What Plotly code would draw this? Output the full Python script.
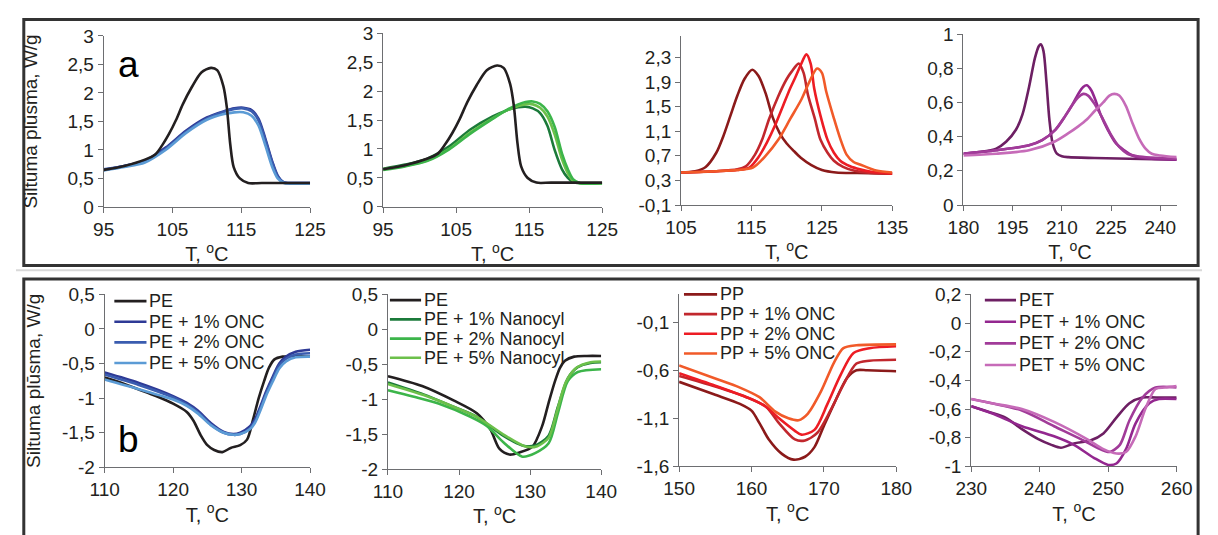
import plotly.graph_objects as go

W, H = 1218, 535

# ---------------- DATA ----------------
# (a) crystallization, panel 1: PE + ONC
a1_T_pe = [95, 98, 101, 102.5, 103.5, 104.5, 105.5, 106.5, 107.8, 109.2, 110.6, 111.5, 112.4, 112.9, 113.4, 113.9, 114.8, 116, 118, 125]
a1_Q_pe = [0.65, 0.72, 0.83, 0.92, 1.08, 1.28, 1.52, 1.8, 2.1, 2.36, 2.44, 2.4, 2.12, 1.75, 1.1, 0.7, 0.5, 0.42, 0.42, 0.42]
a1_T_onc = [95, 98, 101, 104, 107, 110, 112.5, 114, 115.3, 116.5, 117.5, 118.5, 119.5, 120.3, 121.2, 122, 125]
a1_Q_onc1 = [0.65, 0.72, 0.81, 1.04, 1.34, 1.57, 1.68, 1.73, 1.74, 1.70, 1.55, 1.2, 0.8, 0.55, 0.43, 0.42, 0.42]
a1_Q_onc2 = [0.66, 0.72, 0.80, 1.02, 1.32, 1.55, 1.67, 1.72, 1.73, 1.68, 1.52, 1.17, 0.78, 0.53, 0.43, 0.42, 0.42]
a1_Q_onc5 = [0.64, 0.70, 0.78, 1.0, 1.3, 1.53, 1.63, 1.66, 1.66, 1.6, 1.43, 1.08, 0.7, 0.5, 0.42, 0.41, 0.41]

# panel 2: PE + Nanocyl
a2_T_nc = [95, 98, 101, 104, 107, 110, 112, 113.5, 114.5, 115.5, 116.5, 117.5, 118.5, 119.5, 120.3, 121, 122, 125]
a2_Q_nc1 = [0.66, 0.73, 0.83, 1.04, 1.34, 1.56, 1.67, 1.72, 1.73, 1.70, 1.62, 1.40, 0.98, 0.65, 0.50, 0.43, 0.41, 0.41]
a2_Q_nc2 = [0.64, 0.70, 0.79, 0.99, 1.27, 1.52, 1.68, 1.77, 1.81, 1.82, 1.78, 1.65, 1.38, 0.92, 0.65, 0.48, 0.41, 0.41]
a2_Q_nc5 = [0.65, 0.71, 0.80, 1.00, 1.29, 1.53, 1.67, 1.74, 1.77, 1.77, 1.71, 1.56, 1.25, 0.82, 0.58, 0.45, 0.41, 0.41]

# panel 3: PP + ONC
a3_T_pp = [105, 107, 108.5, 110, 111, 112, 113, 114, 115.1, 116, 117, 118, 119, 120, 121, 122, 123.5, 125, 127, 130, 135]
a3_Q_pp = [0.43, 0.45, 0.52, 0.75, 1.02, 1.35, 1.68, 1.95, 2.1, 2.0, 1.72, 1.33, 1.07, 0.9, 0.78, 0.67, 0.55, 0.47, 0.43, 0.42, 0.41]
a3_T_onc1 = [105, 110, 113, 114.2, 115.5, 116.5, 117.5, 118.8, 120, 120.7, 121.7, 122.4, 123, 124, 124.8, 125.8, 126.7, 128, 129.5, 132, 135]
a3_Q_onc1 = [0.43, 0.45, 0.48, 0.53, 0.72, 0.96, 1.3, 1.67, 1.95, 2.07, 2.2, 2.05, 1.7, 1.3, 0.96, 0.75, 0.62, 0.52, 0.46, 0.42, 0.41]
a3_T_onc2 = [105, 110, 113, 114.7, 116, 117.2, 118.4, 119.5, 120.5, 121.2, 122, 122.8, 123.4, 123.9, 124.8, 125.8, 126.7, 127.6, 129, 130.4, 132, 135]
a3_Q_onc2 = [0.43, 0.45, 0.47, 0.51, 0.68, 0.92, 1.21, 1.52, 1.8, 1.97, 2.18, 2.35, 2.2, 1.8, 1.35, 0.96, 0.75, 0.62, 0.53, 0.48, 0.44, 0.41]
a3_T_onc5 = [105, 110, 113, 115.2, 117, 118.8, 120.5, 122.1, 123.2, 124.3, 125, 125.6, 126.7, 127.6, 128.5, 129.5, 130.4, 132.7, 135]
a3_Q_onc5 = [0.43, 0.45, 0.47, 0.51, 0.7, 0.96, 1.3, 1.62, 1.9, 2.12, 2.05, 1.75, 1.31, 0.98, 0.72, 0.6, 0.56, 0.46, 0.43]

# panel 4: PET + ONC
a4_T_pet = [180, 185, 190, 193, 196, 198, 200, 201.8, 203, 203.6, 204.4, 205.3, 206.2, 207.2, 208.5, 210, 212, 220, 245]
a4_Q_pet = [0.30, 0.31, 0.33, 0.37, 0.44, 0.53, 0.69, 0.86, 0.93, 0.94, 0.90, 0.72, 0.5, 0.36, 0.30, 0.285, 0.28, 0.275, 0.265]
a4_T_onc1 = [180, 190, 200, 204, 208, 211, 213, 215, 216.5, 217.6, 219, 220.5, 222, 224, 226.5, 229, 231.5, 235, 245]
a4_Q_onc1 = [0.30, 0.32, 0.35, 0.38, 0.44, 0.52, 0.58, 0.65, 0.69, 0.70, 0.67, 0.6, 0.52, 0.44, 0.36, 0.32, 0.29, 0.275, 0.265]
a4_T_onc2 = [180, 190, 200, 204, 208, 211, 213, 215, 216.6, 218, 220, 222.6, 225, 227.5, 230, 233, 245]
a4_Q_onc2 = [0.30, 0.32, 0.35, 0.38, 0.44, 0.52, 0.58, 0.63, 0.65, 0.64, 0.59, 0.5, 0.41, 0.34, 0.3, 0.285, 0.27]
a4_T_onc5 = [180, 190, 200, 207.7, 212, 215, 217.6, 220, 222.6, 224.5, 226, 227.5, 229.5, 231.5, 233.5, 235.5, 237.4, 240, 245]
a4_Q_onc5 = [0.29, 0.30, 0.32, 0.37, 0.42, 0.46, 0.5, 0.55, 0.6, 0.64, 0.65, 0.64, 0.58, 0.48, 0.39, 0.33, 0.30, 0.29, 0.28]

# (b) melting, panel 5: PE + ONC
b1_T_pe = [110, 112.5, 115, 117.5, 120, 122, 123, 124, 125, 126, 127.2, 128.4, 129.8, 130.8, 131.7, 132.5, 133.3, 134, 134.8, 136, 138, 140]
b1_Q_pe = [-0.70, -0.78, -0.875, -0.97, -1.08, -1.2, -1.33, -1.53, -1.68, -1.75, -1.78, -1.72, -1.68, -1.6, -1.3, -1.0, -0.75, -0.56, -0.44, -0.40, -0.39, -0.40]
b1_T_onc = [110, 115, 120, 122, 123.6, 125.5, 127.4, 128.8, 129.8, 131.2, 132, 132.7, 133.6, 134.6, 135.5, 136.5, 137.9, 140]
b1_Q_onc1 = [-0.63, -0.78, -0.97, -1.07, -1.18, -1.36, -1.49, -1.52, -1.5, -1.41, -1.3, -1.13, -0.9, -0.68, -0.5, -0.4, -0.33, -0.30]
b1_Q_onc2 = [-0.66, -0.81, -0.99, -1.09, -1.2, -1.38, -1.5, -1.53, -1.52, -1.44, -1.33, -1.16, -0.93, -0.71, -0.53, -0.43, -0.37, -0.35]
b1_Q_onc5 = [-0.73, -0.87, -1.02, -1.11, -1.22, -1.39, -1.5, -1.53, -1.52, -1.45, -1.35, -1.19, -0.96, -0.75, -0.57, -0.47, -0.41, -0.40]

# panel 6: PE + Nanocyl
b2_T_pe = [110, 114.8, 119.3, 122.5, 124.4, 125.7, 127.1, 128.5, 130.3, 131.7, 132.6, 133.5, 134.2, 134.9, 136.2, 138, 140]
b2_Q_pe = [-0.67, -0.81, -1.02, -1.2, -1.43, -1.71, -1.79, -1.76, -1.68, -1.38, -1.05, -0.74, -0.55, -0.45, -0.39, -0.38, -0.38]
b2_T_nc1 = [110, 115, 119.3, 122.5, 126.2, 128.9, 130.7, 132.6, 133.9, 135.3, 136.7, 138.5, 140]
b2_Q_nc1 = [-0.76, -0.93, -1.11, -1.25, -1.52, -1.66, -1.66, -1.52, -1.11, -0.70, -0.54, -0.48, -0.47]
b2_T_nc2 = [110, 113.5, 117.1, 121.6, 123.9, 126.2, 128.9, 130.7, 132.6, 133.9, 135.3, 136.7, 140]
b2_Q_nc2 = [-0.87, -0.96, -1.06, -1.25, -1.38, -1.61, -1.82, -1.77, -1.63, -1.2, -0.74, -0.61, -0.57]
b2_T_nc5 = [110, 115, 119.3, 122.5, 126.2, 129.5, 131, 132.6, 133.7, 135, 136.5, 138.5, 140]
b2_Q_nc5 = [-0.78, -0.94, -1.11, -1.25, -1.5, -1.68, -1.67, -1.55, -1.2, -0.76, -0.55, -0.47, -0.46]

# panel 7: PP + ONC
b3_T_pp = [150, 154.8, 158.4, 160, 161.1, 162.4, 164.2, 165.8, 167.4, 168.7, 170, 171.4, 173.2, 174.5, 176, 180]
b3_Q_pp = [-0.72, -0.85, -0.95, -1.02, -1.15, -1.32, -1.47, -1.53, -1.5, -1.4, -1.18, -0.95, -0.68, -0.6, -0.6, -0.61]
b3_T_onc1 = [150, 155, 159.3, 162, 163.8, 166, 167.4, 169.1, 170.9, 172.7, 174.5, 176.3, 180]
b3_Q_onc1 = [-0.66, -0.77, -0.88, -0.98, -1.15, -1.32, -1.33, -1.25, -1.02, -0.75, -0.53, -0.5, -0.49]
b3_T_onc2 = [150, 155, 160, 162, 163.8, 166, 166.9, 168.7, 170.5, 172.3, 174.1, 176.3, 180]
b3_Q_onc2 = [-0.63, -0.76, -0.9, -0.98, -1.1, -1.23, -1.27, -1.22, -0.95, -0.65, -0.42, -0.37, -0.35]
b3_T_onc5 = [150, 154.8, 158.4, 161.1, 163.3, 165.1, 166.5, 167.8, 169.6, 171.4, 172.7, 174.5, 180]
b3_Q_onc5 = [-0.55, -0.68, -0.78, -0.88, -1.03, -1.1, -1.12, -1.05, -0.82, -0.52, -0.37, -0.34, -0.33]

# panel 8: PET + ONC
b4_T_pet = [230, 232.6, 235, 237.4, 239.8, 241.7, 243.1, 245, 247.4, 249.3, 251.2, 253.1, 255, 257, 260]
b4_Q_pet = [-0.58, -0.62, -0.66, -0.74, -0.81, -0.85, -0.87, -0.84, -0.82, -0.77, -0.66, -0.56, -0.52, -0.52, -0.52]
b4_T_onc1 = [230, 233, 237.4, 242.1, 245, 247.9, 250, 251.2, 252.6, 254, 256, 257.4, 260]
b4_Q_onc1 = [-0.58, -0.63, -0.72, -0.79, -0.85, -0.94, -0.99, -0.98, -0.88, -0.70, -0.56, -0.53, -0.53]
b4_T_onc2 = [230, 233, 237.4, 242.1, 246, 248.8, 250.2, 251.7, 253.1, 255, 256.9, 260]
b4_Q_onc2 = [-0.53, -0.56, -0.61, -0.72, -0.81, -0.88, -0.9, -0.85, -0.68, -0.52, -0.45, -0.45]
b4_T_onc5 = [230, 233, 237.4, 242.1, 246.9, 249.3, 251.2, 252.6, 254, 255.5, 256.9, 258.3, 260]
b4_Q_onc5 = [-0.53, -0.56, -0.6, -0.69, -0.81, -0.88, -0.91, -0.9, -0.79, -0.59, -0.46, -0.45, -0.44]

# legend names
names_pe_onc = ["PE", "PE + 1% ONC", "PE + 2% ONC", "PE + 5% ONC"]
names_pe_nc = ["PE", "PE + 1% Nanocyl", "PE + 2% Nanocyl", "PE + 5% Nanocyl"]
names_pp = ["PP", "PP + 1% ONC", "PP + 2% ONC", "PP + 5% ONC"]
names_pet = ["PET", "PET + 1% ONC", "PET + 2% ONC", "PET + 5% ONC"]

# tick values / labels
x_ticks_pe = [95, 105, 115, 125]
y_ticks_a1 = [0, 0.5, 1, 1.5, 2, 2.5, 3]
y_text_a1 = ["0", "0,5", "1", "1,5", "2", "2,5", "3"]
x_ticks_a3 = [105, 115, 125, 135]
y_ticks_a3 = [-0.1, 0.3, 0.7, 1.1, 1.5, 1.9, 2.3]
y_text_a3 = ["-0,1", "0,3", "0,7", "1,1", "1,5", "1,9", "2,3"]
x_ticks_a4 = [180, 195, 210, 225, 240]
y_ticks_a4 = [0, 0.2, 0.4, 0.6, 0.8, 1]
y_text_a4 = ["0", "0,2", "0,4", "0,6", "0,8", "1"]
x_ticks_b1 = [110, 120, 130, 140]
y_ticks_b1 = [-2, -1.5, -1, -0.5, 0, 0.5]
y_text_b1 = ["-2", "-1,5", "-1", "-0,5", "0", "0,5"]
x_ticks_b3 = [150, 160, 170, 180]
y_ticks_b3 = [-1.6, -1.1, -0.6, -0.1]
y_text_b3 = ["-1,6", "-1,1", "-0,6", "-0,1"]
x_ticks_b4 = [230, 240, 250, 260]
y_ticks_b4 = [-1, -0.8, -0.6, -0.4, -0.2, 0, 0.2]
y_text_b4 = ["-1", "-0,8", "-0,6", "-0,4", "-0,2", "0", "0,2"]

# ---------------- STYLE ----------------
C_BLACK = "#231f20"
C_BLUE = ["#2e3a96", "#3a5caf", "#5b9bd5"]
C_GREEN = ["#1b7a3a", "#3cb54a", "#6cc04a"]
C_RED = ["#8b1a1a", "#c1272d", "#ed1c24", "#f15a29"]
C_PURP = ["#6d1f63", "#93278f", "#a13b99", "#c66bb8"]
LW = 2.6
FONT = "Liberation Sans, Arial, sans-serif"
TXT = "#231f20"
AX_COLOR = "#6d6e71"
X_TITLE = "T, <sup style='font-size:14px'>o</sup>C"
Y_TITLE = "Siltuma plūsma, W/g"

fig = go.Figure()

def add(panel, T, Q, name, color):
    ax = "" if panel == 1 else str(panel)
    fig.add_trace(go.Scatter(
        x=T, y=Q, name=name, mode="lines",
        line=dict(color=color, width=LW, shape="spline", smoothing=0.8),
        xaxis="x" + ax, yaxis="y" + ax,
        showlegend=False, hoverinfo="skip",
    ))

# top row
add(1, a1_T_onc, a1_Q_onc1, names_pe_onc[1], C_BLUE[0])
add(1, a1_T_onc, a1_Q_onc2, names_pe_onc[2], C_BLUE[1])
add(1, a1_T_onc, a1_Q_onc5, names_pe_onc[3], C_BLUE[2])
add(1, a1_T_pe, a1_Q_pe, names_pe_onc[0], C_BLACK)

add(2, a2_T_nc, a2_Q_nc1, names_pe_nc[1], C_GREEN[0])
add(2, a2_T_nc, a2_Q_nc5, names_pe_nc[3], C_GREEN[2])
add(2, a2_T_nc, a2_Q_nc2, names_pe_nc[2], C_GREEN[1])
add(2, a1_T_pe, a1_Q_pe, names_pe_nc[0], C_BLACK)

add(3, a3_T_pp, a3_Q_pp, names_pp[0], C_RED[0])
add(3, a3_T_onc1, a3_Q_onc1, names_pp[1], C_RED[1])
add(3, a3_T_onc2, a3_Q_onc2, names_pp[2], C_RED[2])
add(3, a3_T_onc5, a3_Q_onc5, names_pp[3], C_RED[3])

add(4, a4_T_pet, a4_Q_pet, names_pet[0], C_PURP[0])
add(4, a4_T_onc1, a4_Q_onc1, names_pet[1], C_PURP[1])
add(4, a4_T_onc2, a4_Q_onc2, names_pet[2], C_PURP[2])
add(4, a4_T_onc5, a4_Q_onc5, names_pet[3], C_PURP[3])

# bottom row
add(5, b1_T_pe, b1_Q_pe, names_pe_onc[0], C_BLACK)
add(5, b1_T_onc, b1_Q_onc1, names_pe_onc[1], C_BLUE[0])
add(5, b1_T_onc, b1_Q_onc2, names_pe_onc[2], C_BLUE[1])
add(5, b1_T_onc, b1_Q_onc5, names_pe_onc[3], C_BLUE[2])

add(6, b2_T_pe, b2_Q_pe, names_pe_nc[0], C_BLACK)
add(6, b2_T_nc1, b2_Q_nc1, names_pe_nc[1], C_GREEN[0])
add(6, b2_T_nc2, b2_Q_nc2, names_pe_nc[2], C_GREEN[1])
add(6, b2_T_nc5, b2_Q_nc5, names_pe_nc[3], C_GREEN[2])

add(7, b3_T_pp, b3_Q_pp, names_pp[0], C_RED[0])
add(7, b3_T_onc1, b3_Q_onc1, names_pp[1], C_RED[1])
add(7, b3_T_onc2, b3_Q_onc2, names_pp[2], C_RED[2])
add(7, b3_T_onc5, b3_Q_onc5, names_pp[3], C_RED[3])

add(8, b4_T_pet, b4_Q_pet, names_pet[0], C_PURP[0])
add(8, b4_T_onc1, b4_Q_onc1, names_pet[1], C_PURP[1])
add(8, b4_T_onc2, b4_Q_onc2, names_pet[2], C_PURP[2])
add(8, b4_T_onc5, b4_Q_onc5, names_pet[3], C_PURP[3])

# ---------------- LAYOUT ----------------
boxes = {  # plot areas in pixels: (left, right, top, bottom)
    1: (90, 302, 27, 205),
    2: (377, 602, 24, 205),
    3: (683, 900, 27, 203),
    4: (973, 1192, 25, 203),
    5: (91, 302, 296, 476),
    6: (382, 601, 296, 478),
    7: (681, 904, 296, 475),
    8: (981, 1192, 296, 475),
}
xspec = {
    1: ([95, 125], x_ticks_pe), 2: ([95, 125], x_ticks_pe),
    3: ([105, 135], x_ticks_a3), 4: ([180, 245], x_ticks_a4),
    5: ([110, 140], x_ticks_b1), 6: ([110, 140], x_ticks_b1),
    7: ([150, 180], x_ticks_b3), 8: ([230, 260], x_ticks_b4),
}
yspec = {
    1: ([0, 3], y_ticks_a1, y_text_a1), 2: ([0, 3], y_ticks_a1, y_text_a1),
    3: ([-0.1, 2.65], y_ticks_a3, y_text_a3), 4: ([0, 1], y_ticks_a4, y_text_a4),
    5: ([-2, 0.5], y_ticks_b1, y_text_b1), 6: ([-2, 0.5], y_ticks_b1, y_text_b1),
    7: ([-1.6, 0.19], y_ticks_b3, y_text_b3), 8: ([-1, 0.2], y_ticks_b4, y_text_b4),
}

layout = dict(
    width=W, height=H,
    margin=dict(l=0, r=0, t=0, b=0),
    paper_bgcolor="white", plot_bgcolor="white",
    font=dict(family=FONT, color=TXT, size=19),
    showlegend=False,
)
for p in range(1, 9):
    l, r, t, b = boxes[p]
    sfx = "" if p == 1 else str(p)
    xr, xt = xspec[p]
    yr, yt, ytxt = yspec[p]
    layout["xaxis" + sfx] = dict(
        domain=[l / W, r / W], range=xr, anchor="y" + sfx,
        tickvals=xt, ticktext=[str(v) for v in xt],
        showline=True, linecolor=AX_COLOR, linewidth=1,
        ticks="outside", ticklen=5, tickcolor=AX_COLOR,
        showgrid=False, zeroline=False,
        tickfont=dict(size=19, color=TXT),
        title=dict(text=X_TITLE, font=dict(size=20, color=TXT), standoff=0),
    )
    ydict = dict(
        domain=[1 - b / H, 1 - t / H], range=yr, anchor="x" + sfx,
        tickvals=yt, ticktext=ytxt,
        showline=True, linecolor=AX_COLOR, linewidth=1,
        ticks="outside", ticklen=5, tickcolor=AX_COLOR,
        showgrid=False, zeroline=False,
        tickfont=dict(size=19, color=TXT),
    )
    if p in (1, 5):
        ydict["title"] = dict(text=Y_TITLE, font=dict(size=19, color=TXT),
                              standoff=24 if p == 1 else 16)
    layout["yaxis" + sfx] = ydict

fig.update_layout(**layout)

# legends for the melting panels (line sample + label), in pixel positions
legend_specs = [
    (names_pe_onc, [C_BLACK] + C_BLUE, 101, 134, 303, 21.5),
    (names_pe_nc, [C_BLACK] + C_GREEN, 384, 416, 302, 20),
    (names_pp, C_RED, 686, 720, 296, 20.5),
    (names_pet, C_PURP, 995, 1027, 302, 22.5),
]
for names, colors, lx0, lx1, y0, dy in legend_specs:
    for i, (nm, col) in enumerate(zip(names, colors)):
        yy = 1 - (y0 + i * dy) / H
        fig.add_shape(type="line", xref="paper", yref="paper",
                      x0=lx0 / W, x1=lx1 / W, y0=yy, y1=yy,
                      line=dict(color=col, width=LW))
        fig.add_annotation(text=nm, x=(lx1 + 1) / W, y=yy, xref="paper", yref="paper",
                           xanchor="left", yanchor="middle", showarrow=False,
                           font=dict(size=18, color=TXT, family=FONT))

# panel frames
FRAME = "#333333"
fig.add_shape(type="rect", xref="paper", yref="paper",
              x0=8 / W, x1=1214 / W, y0=1 - 266 / H, y1=1 - 10 / H,
              line=dict(color=FRAME, width=3), fillcolor="rgba(0,0,0,0)", layer="below")
fig.add_shape(type="line", xref="paper", yref="paper",
              x0=0, x1=1, y0=1 - 271 / H, y1=1 - 271 / H,
              line=dict(color="#d9d9d9", width=2), layer="below")
fig.add_shape(type="rect", xref="paper", yref="paper",
              x0=8 / W, x1=1214 / W, y0=-0.05, y1=1 - 280 / H,
              line=dict(color=FRAME, width=3), fillcolor="rgba(0,0,0,0)", layer="below")

# panel letters
fig.add_annotation(text="a", x=116 / W, y=1 - 57 / H, xref="paper", yref="paper",
                   xanchor="center", yanchor="middle", showarrow=False,
                   font=dict(size=37, color="black", family=FONT))
fig.add_annotation(text="b", x=116 / W, y=1 - 447 / H, xref="paper", yref="paper",
                   xanchor="center", yanchor="middle", showarrow=False,
                   font=dict(size=37, color="black", family=FONT))

fig.write_html("out.html")
